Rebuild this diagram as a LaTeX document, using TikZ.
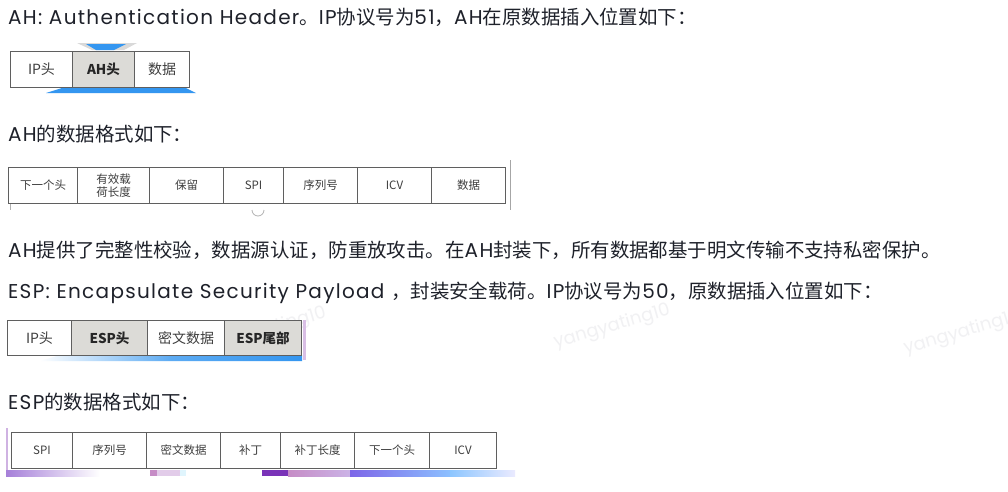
\documentclass[tikz,border=0pt]{standalone}
\usepackage{fontspec}
\setmainfont{Poppins}[LetterSpace=6.5]
\newfontfamily\wmfont{Poppins}
\newfontfamily\cjk{Noto Sans CJK SC}
\usetikzlibrary{positioning}
\definecolor{txt}{RGB}{30,33,42}
\definecolor{cellgray}{RGB}{220,219,215}
\definecolor{edge}{RGB}{95,95,95}
\definecolor{celltxt}{RGB}{62,62,62}
\definecolor{wm}{RGB}{241,241,243}
\definecolor{bblue}{RGB}{52,150,240}
\tikzset{
  line/.style={anchor=base west, inner sep=0pt, text=txt, font=\fontsize{20}{20}\selectfont},
  cell/.style={draw=edge, line width=1pt, fill=white, anchor=north west, inner sep=0pt,
    text=celltxt, font=\cjk\fontsize{11.5}{13}\selectfont, align=center},
  bigcell/.style={cell, font=\cjk\fontsize{14}{15}\selectfont},
  gcell/.style={cell, fill=cellgray, text=black!85, font=\cjk\bfseries\fontsize{13.5}{15}\selectfont},
  wmark/.style={text=wm, rotate=16, font=\wmfont\fontsize{18}{18}\selectfont, inner sep=0pt}
}
\newcommand{\cj}[1]{{\cjk\fontsize{19.45}{20}\selectfont #1}}
\begin{document}
\begin{tikzpicture}[x=1pt,y=-1pt]
\useasboundingbox (0,0) rectangle (1008,491);
\fill[white] (0,0) rectangle (1008,491);

% watermarks
\node[wmark] (wm1) at (268,330) {yangyating10};
\node[wmark] (wm2) at (612,327) {yangyating10};
\node[wmark] (wm3) at (962,333) {yangyating10};

% text lines
\node[line] (l1) at (8,24) {AH: Authentication Header\cj{。}IP\cj{协议号为}51\cj{，}AH\cj{在原数据插入位置如下：}};
\node[line] (l2) at (8,141) {AH\cj{的数据格式如下：}};
\node[line] (l3) at (8,257) {AH\cj{提供了完整性校验，数据源认证，防重放攻击。在}AH\cj{封装下，所有数据都基于明文传输不支持私密保护。}};
\node[line] (l4) at (8,298) {ESP: Encapsulate Security Payload \cj{，封装安全载荷。}IP\cj{协议号为}50\cj{，原数据插入位置如下：}};
\node[line] (l5) at (8,409) {ESP\cj{的数据格式如下：}};

% ---------- AH insertion ----------
\fill[gray!30] (77,43) -- (137,43) -- (124,50) -- (92,50) -- cycle;
\fill[bblue] (86,44) -- (126,44) -- (114,50) -- (96,50) -- cycle;
\fill[bblue] (46,93) -- (62,88) -- (186,88) -- (196,93) -- cycle;
\node[bigcell, minimum width=62pt, minimum height=36pt] (a1) at (10,51) {IP头};
\node[gcell, minimum width=62pt, minimum height=36pt] (a2) at (72,51) {AH头};
\node[bigcell, minimum width=55pt, minimum height=36pt] (a3) at (134,51) {数据};

% ---------- AH format ----------
\draw[gray!70, line width=1pt] (510,160) -- (510,210);
\draw[gray!60, line width=0.8pt] (10,203) -- (10,210);
\draw[gray!60, line width=0.8pt] (252,210) arc (180:0:6);
\node[cell, minimum width=69pt, minimum height=36pt] (h1) at (8,167) {下一个头};
\node[cell, minimum width=72pt, minimum height=36pt] (h2) at (77,167) {有效载\\荷长度};
\node[cell, minimum width=74pt, minimum height=36pt] (h3) at (149,167) {保留};
\node[cell, minimum width=60pt, minimum height=36pt] (h4) at (223,167) {SPI};
\node[cell, minimum width=74pt, minimum height=36pt] (h5) at (283,167) {序列号};
\node[cell, minimum width=74pt, minimum height=36pt] (h6) at (357,167) {ICV};
\node[cell, minimum width=74pt, minimum height=36pt] (h7) at (431,167) {数据};

% ---------- ESP insertion ----------
\shade[left color=white, right color=bblue, middle color=bblue!80] (40,361) -- (60,355) -- (302,355) -- (302,361) -- cycle;
\fill[blue!20!violet!25] (303,320) rectangle (306,360);
\node[bigcell, minimum width=64pt, minimum height=35pt] (e1) at (7,320) {IP头};
\node[gcell, minimum width=76pt, minimum height=35pt] (e2) at (71,320) {ESP头};
\node[bigcell, minimum width=77pt, minimum height=35pt] (e3) at (147,320) {密文数据};
\node[gcell, minimum width=77pt, minimum height=35pt] (e4) at (224,320) {ESP尾部};

% ---------- ESP format ----------
\fill[blue!25!violet!30] (6,428) rectangle (8,471);
\shade[left color=blue!40!violet!50, right color=white] (6,470) rectangle (100,476);
\fill[violet!45] (150,470) rectangle (157,476);
\fill[blue!15!violet!20] (157,470) rectangle (180,476);
\fill[cyan!12] (180,470) rectangle (186,476);
\fill[violet!70!blue!80] (262,470) rectangle (288,476);
\shade[left color=violet!45, right color=blue!35!violet!30] (288,470) rectangle (350,476);
\shade[left color=blue!70!violet!60, right color=blue!55!cyan!45] (350,470) rectangle (450,476);
\shade[left color=blue!50!cyan!45, right color=blue!8] (450,470) rectangle (515,476);
\node[cell, minimum width=61pt, minimum height=36pt] (s1) at (11,432) {SPI};
\node[cell, minimum width=74pt, minimum height=36pt] (s2) at (72,432) {序列号};
\node[cell, minimum width=74pt, minimum height=36pt] (s3) at (146,432) {密文数据};
\node[cell, minimum width=60pt, minimum height=36pt] (s4) at (220,432) {补丁};
\node[cell, minimum width=74pt, minimum height=36pt] (s5) at (280,432) {补丁长度};
\node[cell, minimum width=75pt, minimum height=36pt] (s6) at (354,432) {下一个头};
\node[cell, minimum width=67pt, minimum height=36pt] (s7) at (429,432) {ICV};
\end{tikzpicture}
\end{document}
